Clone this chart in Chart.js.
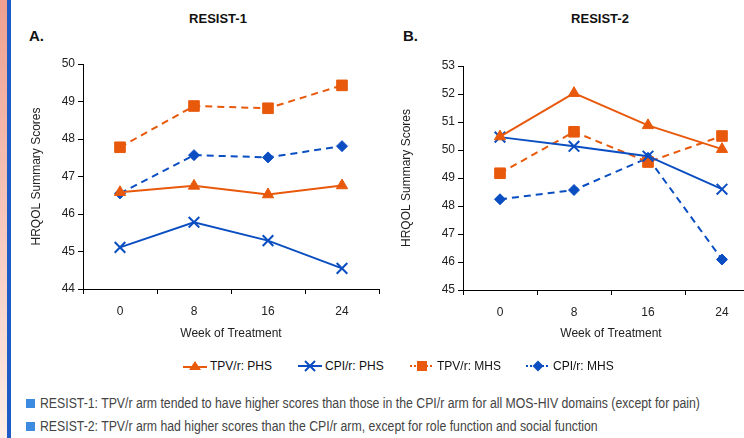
<!DOCTYPE html>
<html><head><meta charset="utf-8">
<script src="https://cdn.jsdelivr.net/npm/chart.js@4/dist/chart.umd.min.js"></script>
<style>
html,body{margin:0;padding:0;}
body{width:744px;height:438px;overflow:hidden;position:relative;background:#fff;font-family:"Liberation Sans",Arial,sans-serif;}
.abs{position:absolute;}
#stripe{left:0;top:0;width:7px;height:438px;background:linear-gradient(#EFA090,#FDEEE8);}
#bar{left:7px;top:0;width:4px;height:438px;background:#1E5BC6;}
.title{font-weight:bold;font-size:13px;color:#111;transform:translateX(-50%);top:11px;white-space:nowrap}
.panel{font-weight:bold;font-size:15px;color:#111;top:27px}
.leg{top:359px;font-size:12px;color:#111;display:flex;align-items:center;white-space:nowrap;height:14px}
.leg svg{margin-right:3px}
.note{left:40px;font-size:14px;color:#444;white-space:nowrap;transform-origin:0 50%;line-height:16px}
.bul{left:26px;width:9px;height:9px;background:#3D8BE0;}
canvas{position:absolute;top:0;}
</style></head>
<body>
<div id="stripe" class="abs"></div>
<div id="bar" class="abs"></div>
<div class="abs title" style="left:218px">RESIST-1</div>
<div class="abs title" style="left:600px">RESIST-2</div>
<div class="abs panel" style="left:29px">A.</div>
<div class="abs panel" style="left:403px">B.</div>
<canvas id="c1" width="390" height="345" style="left:0;width:390px;height:345px"></canvas>
<canvas id="c2" width="400" height="345" style="left:370px;width:400px;height:345px"></canvas>

<div class="abs leg" style="left:183px"><svg width="24" height="14"><line x1="0" y1="8" x2="24" y2="8" stroke="#E8590C" stroke-width="2"/><polygon points="12,2 18,11 6,11" fill="#E8590C"/></svg><span id="lg0"></span></div>
<div class="abs leg" style="left:298px"><svg width="24" height="14"><line x1="0" y1="7" x2="24" y2="7" stroke="#0A4EC2" stroke-width="2"/><path d="M7,2 L17,12 M17,2 L7,12" stroke="#0A4EC2" stroke-width="2"/></svg><span id="lg1"></span></div>
<div class="abs leg" style="left:410px"><svg width="24" height="14"><line x1="0" y1="7" x2="24" y2="7" stroke="#E8590C" stroke-width="2" stroke-dasharray="2,2"/><rect x="7" y="2" width="10" height="10" fill="#E8590C"/></svg><span id="lg2"></span></div>
<div class="abs leg" style="left:526px"><svg width="24" height="14"><line x1="0" y1="7" x2="24" y2="7" stroke="#0A4EC2" stroke-width="2" stroke-dasharray="2,2"/><polygon points="12,1.5 17.5,7 12,12.5 6.5,7" fill="#0A4EC2"/></svg><span id="lg3"></span></div>

<div class="abs bul" style="top:399px"></div>
<div class="abs bul" style="top:422px"></div>
<div class="abs note" id="n1" style="top:395px">RESIST-1: TPV/r arm tended to have higher scores than those in the CPI/r arm for all MOS-HIV domains (except for pain)</div>
<div class="abs note" id="n2" style="top:418px">RESIST-2: TPV/r arm had higher scores than the CPI/r arm, except for role function and social function</div>

<script>
const weeks = ['0', '8', '16', '24'];
const seriesNames = ['TPV/r: PHS', 'CPI/r: PHS', 'TPV/r: MHS', 'CPI/r: MHS'];
const r1TpvPhs = [46.58, 46.75, 46.52, 46.76];
const r1CpiPhs = [45.11, 45.78, 45.29, 44.55];
const r1TpvMhs = [47.78, 48.88, 48.82, 49.43];
const r1CpiMhs = [46.55, 47.57, 47.51, 47.81];
const r2TpvPhs = [50.48, 52.03, 50.88, 50.03];
const r2CpiPhs = [50.46, 50.13, 49.78, 48.60];
const r2TpvMhs = [49.17, 50.65, 49.57, 50.50];
const r2CpiMhs = [48.24, 48.57, 49.72, 46.09];
const r1Range = [44, 50];
const r2Range = [45, 53];

const ORANGE = '#E8590C', BLUE = '#0A4EC2';
const FAM = '"Liberation Sans", Arial, sans-serif';

seriesNames.forEach((n, i) => { document.getElementById('lg' + i).textContent = n; });

function ds(label, data, color, style, dashed, radius, bw) {
  return {
    label, data, borderColor: color, backgroundColor: color, borderWidth: 2,
    borderDash: dashed ? [7, 5] : [], pointStyle: style, pointRadius: radius,
    pointHoverRadius: radius, pointBackgroundColor: color, pointBorderColor: color,
    pointBorderWidth: bw, tension: 0, fill: false
  };
}

function makeChart(id, range, d, yW, xH, top) {
  const sets = [
    ds(seriesNames[0], d[0], ORANGE, 'triangle', false, 6.5, 1),
    ds(seriesNames[1], d[1], BLUE, 'crossRot', false, 7.5, 2),
    ds(seriesNames[2], d[2], ORANGE, 'rect', true, 7.5, 1),
    ds(seriesNames[3], d[3], BLUE, 'rectRot', true, 5.5, 1)
  ];
  return new Chart(document.getElementById(id), {
    type: 'line',
    data: { labels: weeks, datasets: sets },
    options: {
      responsive: false, animation: false,
      layout: { padding: { left: 0, right: 11, top: top, bottom: 0 } },
      plugins: { legend: { display: false }, tooltip: { enabled: false } },
      scales: {
        x: {
          type: 'category', offset: true,
          grid: { offset: true, drawOnChartArea: false, drawTicks: true, tickLength: 5, color: '#000', lineWidth: 1 },
          border: { display: true, color: '#000', width: 1 },
          ticks: { color: '#222', font: { family: FAM, size: 12 }, padding: 10, maxRotation: 0 },
          title: { display: true, text: 'Week of Treatment', color: '#222', font: { family: FAM, size: 12 }, padding: { top: 0, bottom: 4 } },
          afterFit: s => { s.height = xH; }
        },
        y: {
          min: range[0], max: range[1],
          ticks: { stepSize: 1, color: '#222', font: { family: FAM, size: 12 }, padding: 3 },
          grid: { drawOnChartArea: false, drawTicks: true, tickLength: 5, color: '#000', lineWidth: 1 },
          border: { display: true, color: '#000', width: 1 },
          title: { display: true, text: 'HRQOL Summary Scores', color: '#222', font: { family: FAM, size: 12 }, padding: { top: 29, bottom: 0 } },
          afterFit: s => { s.width = yW; }
        }
      }
    }
  });
}

makeChart('c1', r1Range, [r1TpvPhs, r1CpiPhs, r1TpvMhs, r1CpiMhs], 83, 56, 64);
makeChart('c2', r2Range, [r2TpvPhs, r2CpiPhs, r2TpvMhs, r2CpiMhs], 93, 55, 66);

// condense the notes to the reference width
const n1 = document.getElementById('n1'), n2 = document.getElementById('n2');
const k = 660 / n1.offsetWidth;
n1.style.transform = 'scaleX(' + k + ')';
n2.style.transform = 'scaleX(' + k + ')';
</script>
</body></html>
